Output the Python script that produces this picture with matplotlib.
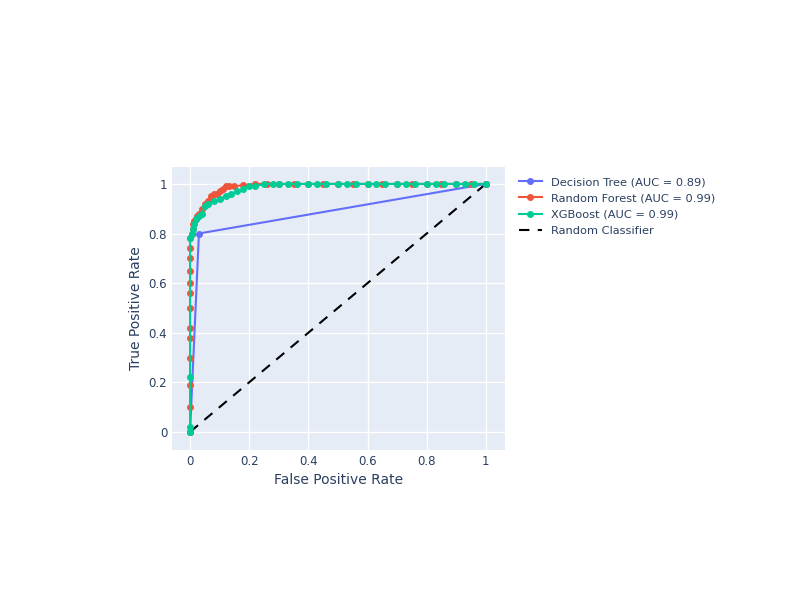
import matplotlib
matplotlib.use("Agg")
import matplotlib.pyplot as plt

dt_fpr = [0.0, 0.03, 1.0]
dt_tpr = [0.0, 0.80, 1.0]

rf_fpr = [0, 0, 0, 0, 0, 0, 0, 0, 0, 0, 0, 0, 0, 0.005, 0.01, 0.01, 0.015, 0.02, 0.025, 0.03,
          0.04, 0.05, 0.06, 0.07, 0.08, 0.09, 0.10, 0.11, 0.12, 0.13, 0.15, 0.18, 0.22, 0.26,
          0.3, 0.35, 0.4, 0.45, 0.5, 0.55, 0.6, 0.65, 0.7, 0.75, 0.8, 0.85, 0.9, 0.95, 1.0]
rf_tpr = [0, 0.1, 0.19, 0.3, 0.38, 0.42, 0.5, 0.56, 0.6, 0.65, 0.7, 0.74, 0.78, 0.8, 0.82, 0.84,
          0.85, 0.86, 0.87, 0.88, 0.9, 0.92, 0.93, 0.95, 0.96, 0.96, 0.97, 0.98, 0.99, 0.99,
          0.99, 0.995, 1, 1, 1, 1, 1, 1, 1, 1, 1, 1, 1, 1, 1, 1, 1, 1, 1.0]

xgb_fpr = [0, 0, 0, 0, 0.005, 0.01, 0.015, 0.02, 0.03, 0.04, 0.05, 0.06, 0.08, 0.10, 0.12,
           0.14, 0.16, 0.18, 0.2, 0.22, 0.25, 0.28, 0.3, 0.33, 0.36, 0.4, 0.43, 0.46, 0.5,
           0.53, 0.56, 0.6, 0.63, 0.66, 0.7, 0.73, 0.76, 0.8, 0.83, 0.86, 0.9, 0.93, 0.96, 1.0]
xgb_tpr = [0, 0.02, 0.22, 0.78, 0.8, 0.82, 0.84, 0.86, 0.87, 0.88, 0.91, 0.92, 0.93, 0.94,
           0.95, 0.96, 0.97, 0.98, 0.99, 0.99, 1, 1, 1, 1, 1, 1, 1, 1, 1, 1, 1, 1, 1, 1, 1,
           1, 1, 1, 1, 1, 1, 1, 1, 1.0]

labels = ["Decision Tree (AUC = 0.89)", "Random Forest (AUC = 0.99)",
          "XGBoost (AUC = 0.99)", "Random Classifier"]
ticks = [0, 0.2, 0.4, 0.6, 0.8, 1]
tick_labels = ["0", "0.2", "0.4", "0.6", "0.8", "1"]

fig = plt.figure(figsize=(8, 6), dpi=100)
ax = fig.add_axes([0.215, 0.25, 0.416, 0.472])
ax.set_facecolor("#E5ECF6")
for s in ax.spines.values():
    s.set_visible(False)
ax.grid(True, color="white", linewidth=1)
ax.set_axisbelow(True)
ax.tick_params(length=0, colors="#2a3f5f", labelsize=8.5)

ax.plot(dt_fpr, dt_tpr, color="#636EFA", marker="o", ms=4, lw=1.5, label=labels[0], zorder=3)
ax.plot(rf_fpr, rf_tpr, color="#EF553B", marker="o", ms=4, lw=1.5, label=labels[1], zorder=4)
ax.plot(xgb_fpr, xgb_tpr, color="#00CC96", marker="o", ms=4, lw=1.5, label=labels[2], zorder=5)
ax.plot([0, 1], [0, 1], color="black", ls=(0, (5, 4)), lw=1.5, label=labels[3], zorder=2)

ax.set_xlim(-0.061, 1.064)
ax.set_ylim(-0.073, 1.069)
ax.set_xticks(ticks)
ax.set_xticklabels(tick_labels)
ax.set_yticks(ticks)
ax.set_yticklabels(tick_labels)
ax.set_xlabel("False Positive Rate", color="#2a3f5f", fontsize=10)
ax.set_ylabel("True Positive Rate", color="#2a3f5f", fontsize=10)

fig.legend(loc="upper left", bbox_to_anchor=(0.636, 0.722), frameon=False,
           fontsize=8.2, labelcolor="#2a3f5f", handlelength=2.0, labelspacing=0.55)
fig.savefig("out.png", dpi=100, facecolor="white")
